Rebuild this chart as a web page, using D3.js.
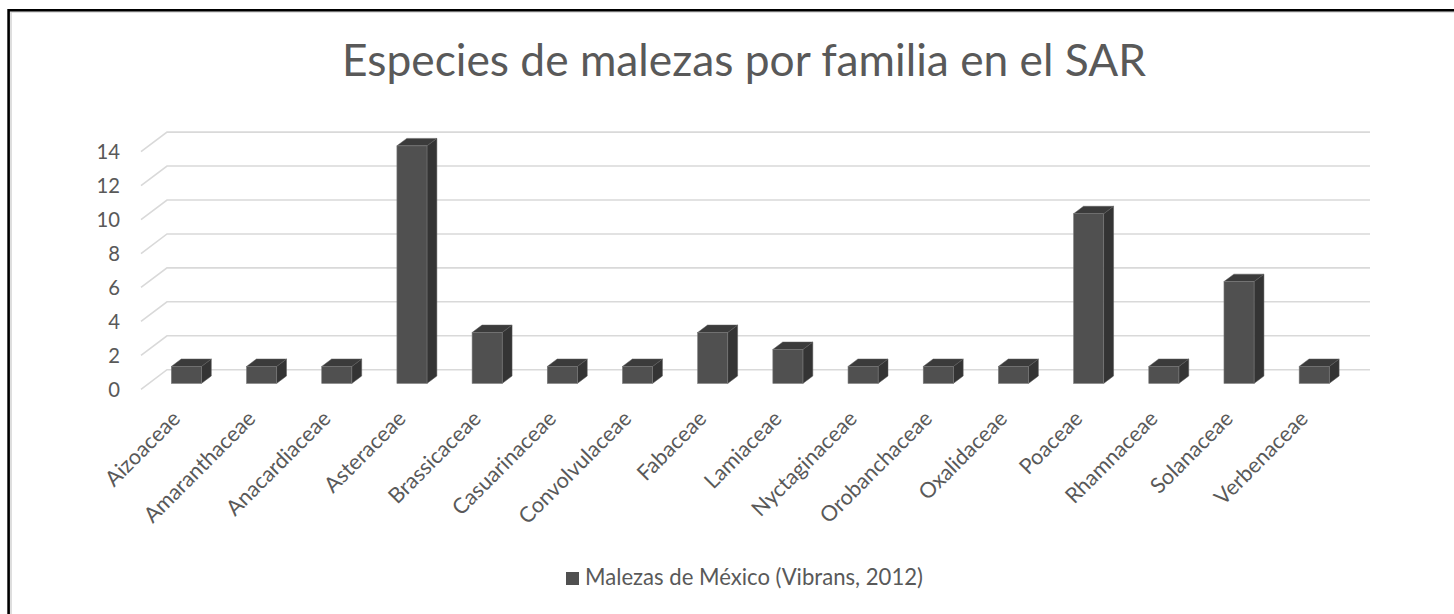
<!DOCTYPE html>
<html>
<head>
<meta charset="utf-8">
<script src="https://cdn.jsdelivr.net/npm/d3@7"></script>
<style>
  html, body { margin: 0; padding: 0; background: #fff; }
  svg { display: block; }
  text { font-family: Lato, "Open Sans", sans-serif; fill: #595959; }
</style>
</head>
<body>
<svg id="chart" width="1454" height="614"></svg>
<script>
// Weed species per plant family
const families = ["Aizoaceae", "Amaranthaceae", "Anacardiaceae", "Asteraceae", "Brassicaceae",
  "Casuarinaceae", "Convolvulaceae", "Fabaceae", "Lamiaceae", "Nyctaginaceae",
  "Orobanchaceae", "Oxalidaceae", "Poaceae", "Rhamnaceae", "Solanaceae", "Verbenaceae"];
const species = [1, 1, 1, 14, 3, 1, 1, 3, 2, 1, 1, 1, 10, 1, 6, 1];
const yTicks = [0, 2, 4, 6, 8, 10, 12, 14];
const titleText = "Especies de malezas por familia en el SAR";
const seriesName = "Malezas de México (Vibrans, 2012)";

const svg = d3.select("#chart");
const W = 1454, H = 614;

// chart frame (top and left edges)
svg.append("path").attr("d", `M11,${H} V12 H${W}`)
  .attr("fill", "none").attr("stroke", "#d6d6d6").attr("stroke-width", 1.6);
svg.append("path").attr("d", `M8.6,${H} V10.2 H${W}`)
  .attr("fill", "none").attr("stroke", "#000").attr("stroke-width", 2.6);

// oblique projection: depth vector of the floor
const depth = { dx: 26, dy: -19.6 };
const barDepth0 = 0.3, barDepth1 = 0.68;

const x = d3.scaleBand().domain(families).range([141, 1344])
  .paddingInner(0.6).paddingOuter(0.3);
const y = d3.scaleLinear().domain([0, 14]).range([389.3, 389.3 - 14 * 16.97]);

// fit a text element's font size to a given width
function fitText(sel, targetWidth, base) {
  sel.style("font-size", base + "px");
  const w = sel.node().getComputedTextLength();
  const size = base * targetWidth / w;
  sel.style("font-size", size + "px");
  return size;
}

// gridlines: back wall + side wall
const grid = svg.append("g").attr("stroke", "#d9d9d9").attr("stroke-width", 1.6).attr("fill", "none");
yTicks.forEach(t => {
  const yf = y(t);
  grid.append("path")
    .attr("d", `M${x.range()[0]},${yf} L${x.range()[0] + depth.dx},${yf + depth.dy} L${x.range()[1] + depth.dx},${yf + depth.dy}`);
});

// y axis labels
const yLab = svg.append("g");
const yTexts = yLab.selectAll("text").data(yTicks).join("text")
  .attr("x", 120).attr("y", d => y(d)).attr("dy", "0.36em")
  .attr("text-anchor", "end").text(d => d);
// size axis labels from the "14" label width
const ySize = fitText(yTexts.filter(d => d === 14), 23.5, 20);
yTexts.style("font-size", ySize + "px");

// 3D bars
const bars = svg.append("g");
families.forEach((f, i) => {
  const v = species[i];
  const x0 = x(f) + barDepth0 * depth.dx;
  const x1 = x0 + x.bandwidth();
  const yb = y(0) + barDepth0 * depth.dy;
  const yt = y(v) + barDepth0 * depth.dy;
  const ddx = (barDepth1 - barDepth0) * depth.dx;
  const ddy = (barDepth1 - barDepth0) * depth.dy;
  const g = bars.append("g");
  // side face
  g.append("path")
    .attr("d", `M${x1},${yt} L${x1 + ddx},${yt + ddy} L${x1 + ddx},${yb + ddy} L${x1},${yb} Z`)
    .attr("fill", "#343434").attr("stroke", "#5a5a5a").attr("stroke-width", 0.5);
  // top face
  g.append("path")
    .attr("d", `M${x0},${yt} L${x0 + ddx},${yt + ddy} L${x1 + ddx},${yt + ddy} L${x1},${yt} Z`)
    .attr("fill", "#3b3b3b").attr("stroke", "#5a5a5a").attr("stroke-width", 0.5);
  // front face
  g.append("rect")
    .attr("x", x0).attr("y", yt).attr("width", x.bandwidth()).attr("height", yb - yt)
    .attr("fill", "#505050").attr("stroke", "#7a7a7a").attr("stroke-width", 0.6);
});

// category labels, rotated
const xLab = svg.append("g");
const xTexts = xLab.selectAll("text").data(families).join("text")
  .attr("text-anchor", "end")
  .attr("transform", d => `translate(${x(d) + x.bandwidth() / 2 + 3},420) rotate(-45)`)
  .text(d => d);
// size category labels from the longest one
const xSize = fitText(xTexts.filter(d => d === "Orobanchaceae"), 148, 20);
xTexts.style("font-size", xSize + "px");

// title
const title = svg.append("text").attr("y", 76).attr("text-anchor", "middle").attr("x", 744).text(titleText);
fitText(title, 804, 40);

// legend
const leg = svg.append("g");
const legText = leg.append("text").attr("x", 585).attr("y", 585).text(seriesName);
fitText(legText, 338, 20);
leg.append("rect").attr("x", 566).attr("y", 572).attr("width", 13).attr("height", 13).attr("fill", "#505050");
</script>
</body>
</html>
